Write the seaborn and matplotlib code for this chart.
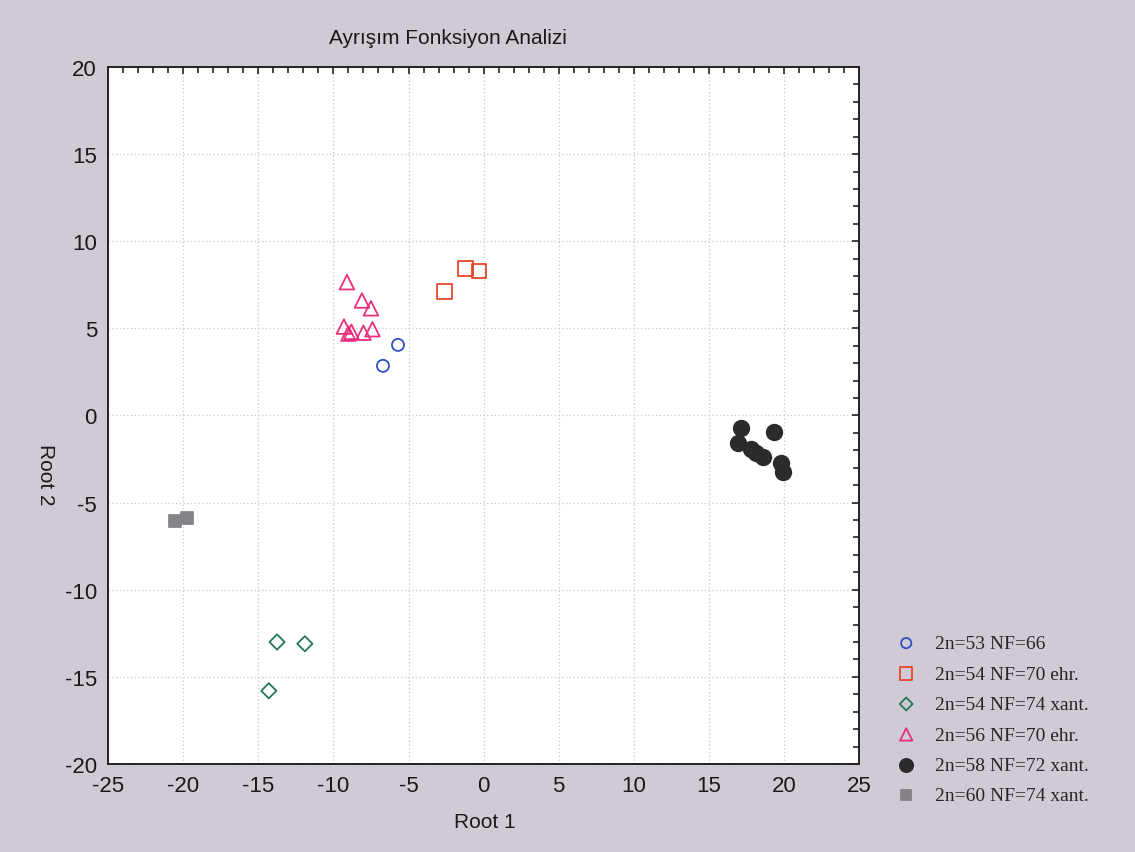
import numpy as np
import pandas as pd
import matplotlib
matplotlib.use("Agg")
import matplotlib.pyplot as plt
from matplotlib.ticker import MultipleLocator
import seaborn as sns

# ── Data ──────────────────────────────────────────────────
groups = ["2n=53 NF=66", "2n=54 NF=70 ehr.", "2n=54 NF=74 xant.",
          "2n=56 NF=70 ehr.", "2n=58 NF=72 xant.", "2n=60 NF=74 xant."]

root1_53 = [-5.7, -6.7]
root2_53 = [4.05, 2.85]

root1_54e = [-2.6, -1.2, -0.3]
root2_54e = [7.1, 8.45, 8.3]

root1_54x = [-13.75, -11.9, -14.3]
root2_54x = [-13.0, -13.1, -15.8]

root1_56 = [-9.1, -8.1, -7.5, -9.3, -9.0, -8.8, -8.0, -7.4]
root2_56 = [7.65, 6.6, 6.15, 5.1, 4.7, 4.8, 4.75, 4.95]

root1_58 = [17.1, 16.9, 19.3, 17.8, 18.1, 18.6, 19.8, 19.9]
root2_58 = [-0.7, -1.6, -0.95, -1.9, -2.15, -2.4, -2.75, -3.25]

root1_60 = [-20.55, -19.75]
root2_60 = [-6.05, -5.9]

df = pd.concat([
    pd.DataFrame({"Root 1": root1_53, "Root 2": root2_53, "grp": groups[0]}),
    pd.DataFrame({"Root 1": root1_54e, "Root 2": root2_54e, "grp": groups[1]}),
    pd.DataFrame({"Root 1": root1_54x, "Root 2": root2_54x, "grp": groups[2]}),
    pd.DataFrame({"Root 1": root1_56, "Root 2": root2_56, "grp": groups[3]}),
    pd.DataFrame({"Root 1": root1_58, "Root 2": root2_58, "grp": groups[4]}),
    pd.DataFrame({"Root 1": root1_60, "Root 2": root2_60, "grp": groups[5]}),
], ignore_index=True)

# ── Styling ────────────────────────────────────────────────
sns.set_theme(style="white")
plt.rcParams["font.family"] = ["Liberation Sans", "DejaVu Sans"]
plt.rcParams["axes.unicode_minus"] = False
BG = "#cfcad3"

# marker, size, edge colour, face colour
STYLES = {
    groups[0]: ("o", 75, "#2f4fc4", "none"),
    groups[1]: ("s", 110, "#e8452c", "none"),
    groups[2]: ("D", 60, "#23785a", "none"),
    groups[3]: ("^", 110, "#ea2f7d", "none"),
    groups[4]: ("o", 125, "#2b2b2d", "#2b2b2d"),
    groups[5]: ("s", 80, "#858387", "#858387"),
}

fig = plt.figure(figsize=(11.35, 8.53), dpi=100, facecolor=BG)
ax = fig.add_axes([0.0952, 0.1032, 0.6618, 0.8171])
ax.set_facecolor("white")

for g in groups:
    m, s, ec, fc = STYLES[g]
    sub = df[df["grp"] == g]
    sns.scatterplot(data=sub, x="Root 1", y="Root 2", ax=ax, marker=m, s=s,
                    facecolors=fc, edgecolor=ec, linewidth=1.3, label=g)

ax.set_xlim(-25, 25)
ax.set_ylim(-20, 20)
ax.xaxis.set_major_locator(MultipleLocator(5))
ax.yaxis.set_major_locator(MultipleLocator(5))
ax.xaxis.set_minor_locator(MultipleLocator(1))
ax.yaxis.set_minor_locator(MultipleLocator(1))
ax.tick_params(which="both", direction="in", top=True, right=True,
               color="#222222", width=1.2)
ax.tick_params(which="major", length=5, labelsize=16, pad=8,
               labelcolor="#1a1a1a")
ax.tick_params(which="minor", length=4)
ax.grid(True, which="major", linestyle=(0, (1, 2)), color="#c8c8c8",
        linewidth=0.9)
for sp in ax.spines.values():
    sp.set_color("#222222")
    sp.set_linewidth(1.4)

ax.set_xlabel("")
ax.set_ylabel("")
fig.text(0.427, 0.029, "Root 1", fontsize=15, color="#1a1a1a", ha="center")
fig.text(0.040, 0.443, "Root 2", fontsize=15, color="#1a1a1a",
         rotation=-90, va="center", ha="center")
fig.text(0.395, 0.955, "Ayrışım Fonksiyon Analizi", fontsize=15,
         color="#1a1a1a", ha="center", va="center",
         family=["Liberation Sans Narrow", "Liberation Sans", "DejaVu Sans"])

ax.get_legend().remove()
handles, labels = ax.get_legend_handles_labels()
leg = fig.legend(handles, labels, loc="upper left",
                 bbox_to_anchor=(0.783, 0.264), frameon=False,
                 prop={"family": ["Liberation Serif", "DejaVu Serif"], "size": 14},
                 labelspacing=0.66, handletextpad=1.0, handlelength=1.0,
                 markerscale=0.85, borderaxespad=0)

fig.savefig("out.png", dpi=100, facecolor=BG)
